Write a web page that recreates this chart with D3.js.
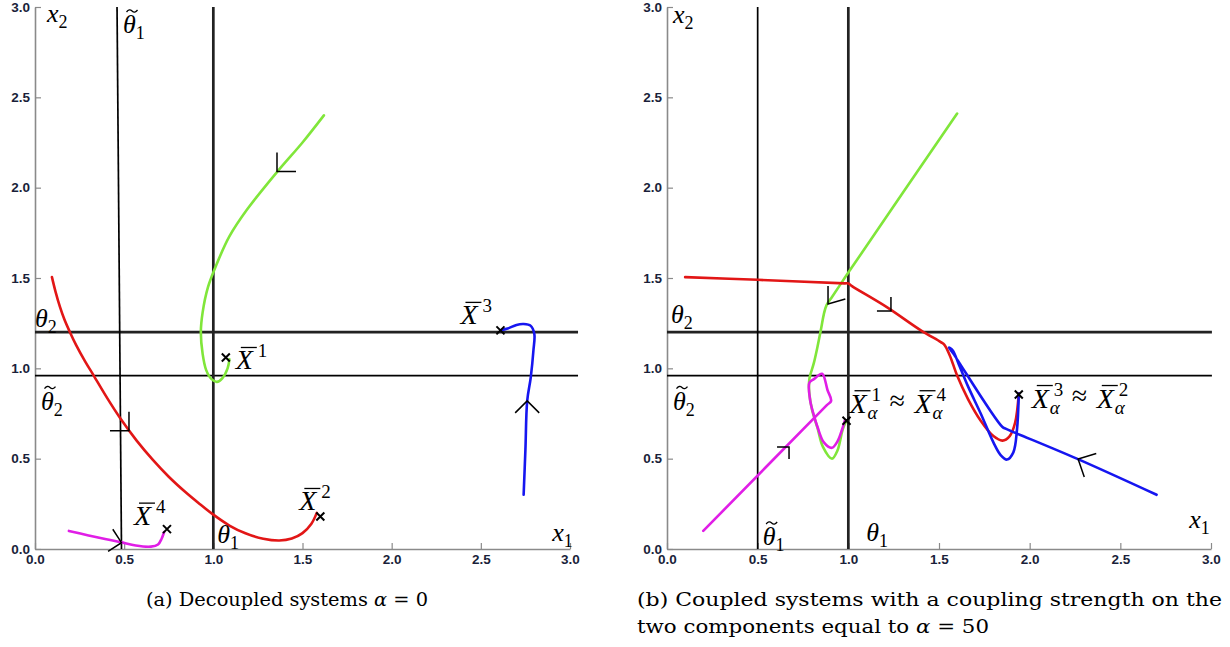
<!DOCTYPE html>
<html>
<head>
<meta charset="utf-8">
<script src="https://cdn.jsdelivr.net/npm/d3@7"></script>
<style>
  html, body { margin: 0; padding: 0; background: #fff; }
  svg { display: block; }
  .tick text { font-family: "Liberation Sans", Arial, sans-serif; font-weight: bold; font-size: 13.5px; fill: #1a1f3a; }
  .math { font-family: "Liberation Serif", "DejaVu Serif", serif; fill: #000; }
  .caption { font-family: "DejaVu Serif", "Liberation Serif", serif; font-size: 18px; fill: #000; }
</style>
</head>
<body>
<script>
// thresholds
const theta1 = 1.0;
const theta2 = 1.2;
const thetaT1 = 0.5;
const thetaT2 = 0.96;
// in panel (a) the theta-tilde-1 line is drawn slightly slanted
const thetaT1LineA = [[0.46, 3.0], [0.485, 0.0]];

const majorTicks = [0, 0.5, 1.0, 1.5, 2.0, 2.5, 3.0];

// panel (a): decoupled, alpha = 0
const greenA = [[1.62, 2.40], [1.50, 2.25], [1.36, 2.09], [1.19, 1.88], [1.09, 1.73], [1.02, 1.58],
  [0.97, 1.45], [0.94, 1.31], [0.93, 1.20], [0.94, 1.08], [0.96, 0.99], [0.99, 0.94], [1.02, 0.925],
  [1.05, 0.945], [1.08, 1.00], [1.09, 1.05]];
const redA = [[0.095, 1.505], [0.115, 1.425], [0.14, 1.34], [0.165, 1.27], [0.196, 1.20], [0.23, 1.13],
  [0.28, 1.04], [0.331, 0.957], [0.405, 0.835], [0.482, 0.718], [0.57, 0.60], [0.661, 0.493],
  [0.75, 0.40], [0.84, 0.318], [0.92, 0.252], [1.0, 0.19], [1.09, 0.13], [1.18, 0.087], [1.28, 0.057],
  [1.37, 0.047], [1.44, 0.058], [1.50, 0.088], [1.55, 0.14], [1.58, 0.20]];
const magentaA = [[0.19, 0.10], [0.30, 0.075], [0.40, 0.054], [0.48, 0.038], [0.565, 0.019],
  [0.65, 0.013], [0.69, 0.025], [0.71, 0.057], [0.724, 0.094]];
const blueA = [[2.74, 0.30], [2.75, 0.55], [2.76, 0.82], [2.78, 0.95], [2.795, 1.10], [2.80, 1.19],
  [2.78, 1.235], [2.74, 1.245], [2.70, 1.24], [2.65, 1.22], [2.61, 1.21]];
const equilibriaA = [
  { x: 1.07, y: 1.06, sup: "1" },
  { x: 1.60, y: 0.18, sup: "2" },
  { x: 2.61, y: 1.21, sup: "3" },
  { x: 0.74, y: 0.11, sup: "4" }
];
// arrow heads: [x, y, pointing angle in degrees (screen), half spread]
const arrowsA = [[1.357, 2.09, 135, 45], [0.527, 0.655, 45, 45], [2.76, 0.82, -90, 45], [0.485, 0.035, 12, 45]];

// panel (b): coupled, alpha = 50
const greenB = [[1.60, 2.41], [1.0, 1.53], [0.95, 1.455], [0.91, 1.395], [0.88, 1.35], [0.865, 1.30],
  [0.85, 1.22], [0.83, 1.12], [0.81, 1.03], [0.785, 0.94], [0.785, 0.86], [0.80, 0.77], [0.83, 0.67],
  [0.86, 0.565], [0.91, 0.50], [0.94, 0.545], [0.97, 0.665], [0.99, 0.71]];
const redB = [[0.10, 1.505], [0.50, 1.49], [0.98, 1.47], [1.0, 1.47], [1.02, 1.455], [1.21, 1.34],
  [1.40, 1.21], [1.51, 1.145], [1.53, 1.13], [1.56, 1.07], [1.60, 0.96], [1.66, 0.83], [1.73, 0.71],
  [1.80, 0.625], [1.85, 0.60], [1.89, 0.625], [1.92, 0.70], [1.94, 0.86]];
const magentaB = [[0.20, 0.10], [0.88, 0.795], [0.905, 0.82], [0.885, 0.88], [0.855, 0.97],
  [0.81, 0.94], [0.785, 0.92], [0.79, 0.82], [0.81, 0.74], [0.83, 0.675], [0.865, 0.59], [0.91, 0.56],
  [0.94, 0.595], [0.965, 0.66], [0.98, 0.71]];
const blueB = [[2.70, 0.30], [2.26, 0.50], [1.87, 0.665], [1.85, 0.675], [1.58, 1.08], [1.555, 1.115],
  [1.575, 1.10], [1.61, 1.02], [1.66, 0.90], [1.73, 0.75], [1.80, 0.59], [1.84, 0.52], [1.875, 0.495],
  [1.91, 0.535], [1.93, 0.66], [1.94, 0.86]];
const equilibriaB = [
  { x: 0.99, y: 0.71, sups: ["1", "4"] },
  { x: 1.94, y: 0.855, sups: ["3", "2"] }
];
const arrowsB = [[0.888, 1.356, 127, 37], [1.235, 1.317, 45, 45], [0.673, 0.564, -45, 45], [2.267, 0.498, 207, 44]];

const colors = { green: "#80e63a", red: "#e21616", blue: "#1616f0", magenta: "#e01ee6" };

const W = 1230, H = 647;
const svg = d3.select("body").append("svg").attr("width", W).attr("height", H);

const yTop = 7, yBottom = 549;
const fmt = d3.format(".1f");
const minorTicks = d3.range(0, 31).map((i) => i / 10);

function drawAxes(g, x, y) {
  const xg = g.append("g").attr("transform", `translate(0,${y(0)})`);
  xg.call(d3.axisBottom(x).tickValues(minorTicks).tickSize(-3).tickFormat(""));
  xg.call(d3.axisBottom(x).tickValues(majorTicks).tickSize(-6).tickSizeOuter(0).tickPadding(5).tickFormat(fmt));
  const yg = g.append("g").attr("transform", `translate(${x(0)},0)`);
  yg.call(d3.axisLeft(y).tickValues(minorTicks).tickSize(-3).tickFormat(""));
  yg.call(d3.axisLeft(y).tickValues(majorTicks).tickSize(-6).tickSizeOuter(0).tickPadding(5).tickFormat(fmt));
  g.selectAll(".domain").attr("stroke", "#8a8a8a").attr("stroke-width", 1.6);
  g.selectAll(".tick line").attr("stroke", "#8a8a8a").attr("stroke-width", 1.2);
}

function thresholdLine(g, pts, x, y, thick) {
  g.append("path")
    .attr("d", d3.line().x((d) => x(d[0])).y((d) => y(d[1]))(pts))
    .attr("fill", "none")
    .attr("stroke", thick ? "#222" : "#000")
    .attr("stroke-width", thick ? 2.7 : 1.7);
}

function curve(g, data, color, x, y) {
  g.append("path")
    .attr("d", d3.line().curve(d3.curveCatmullRom.alpha(0.5)).x((d) => x(d[0])).y((d) => y(d[1]))(data))
    .attr("fill", "none")
    .attr("stroke", color)
    .attr("stroke-width", 2.6)
    .attr("stroke-linejoin", "round")
    .attr("stroke-linecap", "round");
}

function arrowHead(g, a, x, y, len) {
  const vx = x(a[0]), vy = y(a[1]);
  const back = ((a[2] + 180) * Math.PI) / 180;
  const s = (a[3] * Math.PI) / 180;
  const p1 = [vx + len * Math.cos(back - s), vy + len * Math.sin(back - s)];
  const p2 = [vx + len * Math.cos(back + s), vy + len * Math.sin(back + s)];
  g.append("path")
    .attr("d", `M${p1[0]},${p1[1]} L${vx},${vy} L${p2[0]},${p2[1]}`)
    .attr("fill", "none")
    .attr("stroke", "#000")
    .attr("stroke-width", 1.5);
}

function cross(g, px, py) {
  const r = 4;
  g.append("path")
    .attr("d", `M${px - r},${py - r}L${px + r},${py + r}M${px - r},${py + r}L${px + r},${py - r}`)
    .attr("stroke", "#000")
    .attr("stroke-width", 2);
}

// italic letter with an upright subscript, one text element
function subLabel(g, px, py, base, sub) {
  const t = g.append("text").attr("class", "math").attr("x", px).attr("y", py).attr("font-size", 26);
  t.append("tspan").attr("font-style", "italic").text(base);
  t.append("tspan").attr("font-size", 18).attr("dy", 6).text(sub);
  return t;
}

// small tilde accent drawn as a path
function tildeMark(g, cx, cy) {
  g.append("path")
    .attr("d", `M${cx - 5.5},${cy + 1} q2.75,-3.6 5.5,-1 t5.5,-1`)
    .attr("fill", "none").attr("stroke", "#000").attr("stroke-width", 1.3);
}

function thetaLabel(g, px, py, sub, tilde) {
  subLabel(g, px, py, "θ", sub);
  if (tilde) tildeMark(g, px + 9, py - 22);
}

// barred X with superscripts (and alpha subscripts): [sup1, sup2] -> "X ≈ X"
function xbarLabel(g, px, py, sups, withAlpha) {
  const t = g.append("text").attr("class", "math").attr("x", px).attr("y", py).attr("font-size", 28);
  sups.forEach((s, i) => {
    const x0 = px + i * 65;
    if (i > 0) t.append("tspan").attr("x", px + 40).attr("y", py - 3).text("≈");
    t.append("tspan").attr("x", x0).attr("y", py).attr("font-style", "italic").text("X");
    t.append("tspan").attr("x", x0 + 22).attr("y", py - 12).attr("font-size", 19).text(s);
    if (withAlpha) {
      t.append("tspan").attr("x", x0 + 18).attr("y", py + 6).attr("font-size", 19)
        .attr("font-style", "italic").text("α");
    }
    g.append("line").attr("x1", x0 + 5).attr("x2", x0 + 21).attr("y1", py - 22).attr("y2", py - 22)
      .attr("stroke", "#000").attr("stroke-width", 1.3);
  });
}

function drawPanel(left, right, xEnd, spec) {
  const x = d3.scaleLinear().domain([0, 3]).range([left, right]);
  const y = d3.scaleLinear().domain([0, 3]).range([yBottom, yTop]);
  const g = svg.append("g");
  drawAxes(g, x, y);

  thresholdLine(g, [[0, theta2], [xEnd, theta2]], x, y, true);
  thresholdLine(g, [[0, thetaT2], [xEnd, thetaT2]], x, y, false);
  thresholdLine(g, [[theta1, 0], [theta1, 3]], x, y, true);
  thresholdLine(g, spec.thetaT1Line, x, y, false);

  spec.curves.forEach((c) => curve(g, c[0], c[1], x, y));
  spec.arrows.forEach((a) => arrowHead(g, a, x, y, a[4] || 18));
  return { g, x, y };
}

// ---- panel (a)
const A = drawPanel(35, 570, 3.045, {
  thetaT1Line: thetaT1LineA,
  curves: [[greenA, colors.green], [redA, colors.red], [magentaA, colors.magenta], [blueA, colors.blue]],
  arrows: arrowsA.map((a, i) => a.concat([[19, 19, 17, 16][i]]))
});
{
  const { g, x, y } = A;
  equilibriaA.forEach((e) => cross(g, x(e.x), y(e.y)));
  const off = { "1": [10, 12], "2": [-21, -6], "3": [-40, -6], "4": [-33, -4] };
  equilibriaA.forEach((e) => xbarLabel(g, x(e.x) + off[e.sup][0], y(e.y) + off[e.sup][1], [e.sup], false));
  subLabel(g, x(0) + 12, y(3) + 15, "x", "2");
  subLabel(g, x(2.9), y(0) - 8, "x", "1");
  thetaLabel(g, x(thetaT1LineA[0][0]) + 6, y(3) + 26, "1", true);
  thetaLabel(g, x(0), y(theta2) - 5, "2", false);
  thetaLabel(g, x(0) + 6, y(thetaT2) + 34, "2", true);
  thetaLabel(g, x(theta1) + 4, y(0) - 6, "1", false);
}

// ---- panel (b)
const B = drawPanel(667, 1211, 3.005, {
  thetaT1Line: [[thetaT1, 0], [thetaT1, 3]],
  curves: [[greenB, colors.green], [magentaB, colors.magenta], [redB, colors.red], [blueB, colors.blue]],
  arrows: arrowsB.map((a, i) => a.concat([[18, 14, 12, 19][i]]))
});
{
  const { g, x, y } = B;
  const off = [[3, -8], [13, 13]];
  equilibriaB.forEach((e, i) => {
    cross(g, x(e.x), y(e.y));
    xbarLabel(g, x(e.x) + off[i][0], y(e.y) + off[i][1], e.sups, true);
  });
  subLabel(g, x(0) + 6, y(3) + 16, "x", "2");
  subLabel(g, x(2.88), y(0) - 21, "x", "1");
  thetaLabel(g, x(0) + 4, y(theta2) - 9, "2", false);
  thetaLabel(g, x(0) + 6, y(thetaT2) + 34, "2", true);
  thetaLabel(g, x(thetaT1) + 5, y(0) - 4, "1", true);
  thetaLabel(g, x(theta1) + 18, y(0) - 8, "1", false);
}

// ---- captions
function caption(px, py, before, after, width, anchor) {
  const t = svg.append("text").attr("class", "caption").attr("x", px).attr("y", py)
    .attr("text-anchor", anchor || "start");
  t.append("tspan").text(before);
  t.append("tspan").attr("font-style", "italic").text("α");
  t.append("tspan").text(after);
  if (width) t.attr("textLength", width).attr("lengthAdjust", "spacingAndGlyphs");
}
caption(287, 606, "(a) Decoupled systems ", " = 0", 282, "middle");
svg.append("text").attr("class", "caption").attr("x", 637).attr("y", 606)
  .attr("textLength", 585).attr("lengthAdjust", "spacingAndGlyphs")
  .text("(b) Coupled systems with a coupling strength on the");
caption(637, 633, "two components equal to ", " = 50", 352);
</script>
</body>
</html>
